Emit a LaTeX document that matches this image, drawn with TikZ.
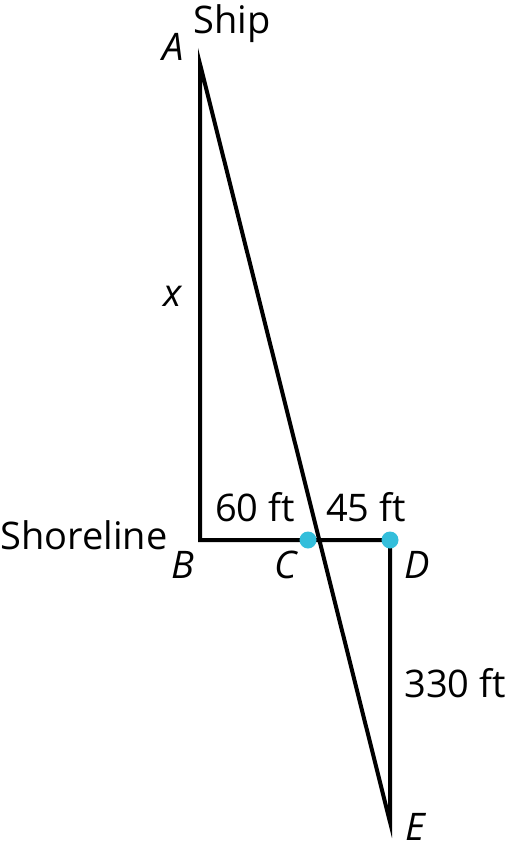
\documentclass[tikz,border=0pt]{standalone}
\usepackage{fontspec}
\setmainfont{Open Sans}
\definecolor{dotcyan}{RGB}{51,190,219}
\tikzset{
  lbl/.style={anchor=base,inner sep=0pt,font=\fontsize{19}{23}\selectfont},
  pt/.style={lbl,font=\fontsize{19}{23}\selectfont\itshape},
  mark dot/.style={fill=dotcyan}
}
\begin{document}
\begin{tikzpicture}[x=0.5pt,y=-0.5pt]
            \useasboundingbox (0,0) rectangle (506,858);
            \coordinate (A) at (200,64);
            \coordinate (B) at (200,540);
            \coordinate (C) at (308,540);
            \coordinate (D) at (390,540);
            \coordinate (E) at (390,822);
            \draw[line width=2pt] (A)--(B)--(D)--(E)--cycle;
            \fill[mark dot] (C) circle (8.5);
            \fill[mark dot] (D) circle (8.5);
            % point letters
            \node[pt] (lA) at (173,60) {A};
            \node[pt] (lB) at (183,578) {B};
            \node[pt] (lC) at (286,578) {C};
            \node[pt] (lD) at (417,578) {D};
            \node[pt] (lE) at (415,840) {E};
            \node[pt] (lx) at (173,306) {x};
            % texts
            \node[lbl] (ship) at (232,33) {Ship};
            \node[lbl] (shore) at (84,549) {Shoreline};
            \node[lbl] (bc) at (255,521) {60 ft};
            \node[lbl] (cd) at (366,521) {45 ft};
            \node[lbl] (de) at (455,697) {330 ft};
\end{tikzpicture}
\end{document}
